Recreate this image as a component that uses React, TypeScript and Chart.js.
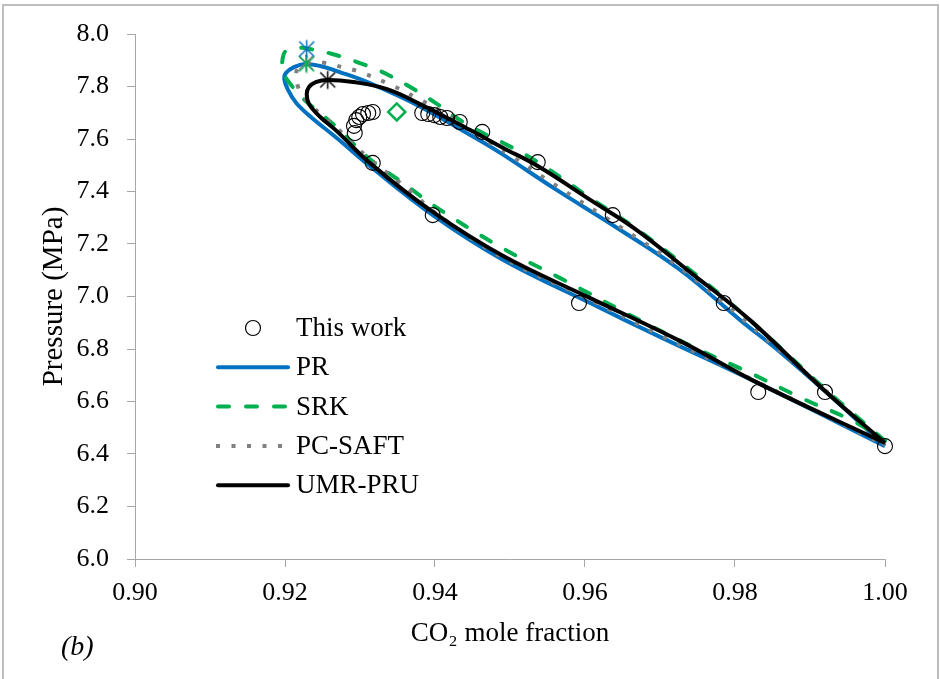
import React, { useEffect, useRef } from "react";
import { Chart, registerables } from "chart.js";
Chart.register(...registerables);

const FONT = "'Liberation Serif', 'Times New Roman', serif";

// ---- data (CO2 mole fraction, pressure MPa) ----
const expX = [0.9293, 0.9292, 0.9295, 0.9299, 0.9304, 0.9311, 0.9317, 0.9383, 0.9391, 0.9399, 0.9407, 0.9416, 0.9433, 0.9463, 0.9537, 0.9637, 0.9785, 0.992, 1.0, 0.9317, 0.9397, 0.9592, 0.9831];
const expY = [7.623, 7.65, 7.672, 7.684, 7.695, 7.699, 7.703, 7.699, 7.695, 7.691, 7.684, 7.68, 7.665, 7.627, 7.512, 7.31, 6.975, 6.636, 6.43, 7.509, 7.31, 6.975, 6.636];

const prX = [1.0, 0.9923, 0.986, 0.9807, 0.9727, 0.9643, 0.956, 0.9487, 0.9447, 0.9376, 0.9313, 0.9273, 0.9247, 0.9227, 0.9212, 0.9201, 0.9199, 0.9204, 0.9215, 0.9236, 0.9269, 0.9313, 0.9397, 0.9491, 0.9607, 0.97, 0.9833, 1.0];
const prY = [6.43, 6.632, 6.789, 6.91, 7.101, 7.261, 7.41, 7.547, 7.615, 7.73, 7.813, 7.855, 7.878, 7.886, 7.874, 7.851, 7.829, 7.787, 7.737, 7.68, 7.604, 7.497, 7.31, 7.139, 6.975, 6.846, 6.667, 6.43];

const srkX = [1.0, 0.992, 0.982, 0.974, 0.9669, 0.9607, 0.9537, 0.9491, 0.9456, 0.9429, 0.9403, 0.9367, 0.9327, 0.9296, 0.9263, 0.9233, 0.9213, 0.9201, 0.9197, 0.9197, 0.9204, 0.9215, 0.9229, 0.9253, 0.9273, 0.9313, 0.9363, 0.9397, 0.9487, 0.9567, 0.9683, 0.9753, 0.982, 0.9891, 0.9957, 1.0];
const srkY = [6.45, 6.648, 6.91, 7.101, 7.257, 7.375, 7.512, 7.585, 7.634, 7.68, 7.733, 7.798, 7.859, 7.893, 7.924, 7.943, 7.947, 7.935, 7.909, 7.859, 7.821, 7.783, 7.741, 7.684, 7.634, 7.524, 7.421, 7.349, 7.189, 7.07, 6.895, 6.796, 6.709, 6.61, 6.526, 6.45];

const pcX = [1.0, 0.9923, 0.9813, 0.9727, 0.9643, 0.956, 0.9504, 0.9447, 0.9407, 0.9376, 0.9336, 0.9296, 0.9276, 0.9253, 0.9237, 0.9223, 0.9216, 0.9215, 0.9217, 0.9224, 0.9236, 0.9249, 0.9269, 0.9313, 0.9371, 0.9397, 0.9491, 0.9607, 0.97, 0.9833, 1.0];
const pcY = [6.434, 6.636, 6.907, 7.109, 7.272, 7.425, 7.531, 7.63, 7.707, 7.756, 7.813, 7.859, 7.874, 7.89, 7.893, 7.882, 7.863, 7.836, 7.802, 7.764, 7.726, 7.691, 7.642, 7.524, 7.394, 7.326, 7.147, 6.987, 6.853, 6.67, 6.434];

const umrX = [1.0, 0.992, 0.982, 0.974, 0.9669, 0.9607, 0.9537, 0.9491, 0.9447, 0.938, 0.9336, 0.9291, 0.9257, 0.9241, 0.9232, 0.9229, 0.9232, 0.9247, 0.9269, 0.9313, 0.9397, 0.9491, 0.9607, 0.9727, 0.9831, 1.0];
const umrY = [6.442, 6.64, 6.91, 7.093, 7.253, 7.368, 7.497, 7.566, 7.634, 7.733, 7.79, 7.817, 7.825, 7.817, 7.798, 7.771, 7.733, 7.684, 7.63, 7.509, 7.322, 7.154, 6.994, 6.83, 6.67, 6.442];

// critical points: [x, y]
const critPR = [0.9229, 7.943];
const critSRK = [0.9229, 7.886];
const critPC = [0.9228, 7.89];
const critUMR = [0.9257, 7.825];
const srkExtra = [0.9349, 7.703];

const xTicks = { min: 0.9, max: 1.0, step: 0.02 };
const yTicks = { min: 6.0, max: 8.0, step: 0.2 };

const legendLabels = ["This work", "PR", "SRK", "PC-SAFT", "UMR-PRU"];

const C_PR = "#0070C0";
const C_SRK = "#00B050";
const C_PC = "#808080";
const C_UMR = "#000000";
const AXIS = "#a6a6a6";

function pts(xs: number[], ys: number[]) {
  return xs.map((x, i) => ({ x, y: ys[i] }));
}

function makeAsterisk(color: string, half: number, lw: number) {
  const size = Math.ceil(half * 2 + lw * 2 + 2);
  const c = document.createElement("canvas");
  c.width = size;
  c.height = size;
  const g = c.getContext("2d")!;
  const m = size / 2;
  const d = half * 0.83;
  g.strokeStyle = color;
  g.lineWidth = lw;
  g.beginPath();
  g.moveTo(m, m - half);
  g.lineTo(m, m + half);
  g.moveTo(m - d, m - d);
  g.lineTo(m + d, m + d);
  g.moveTo(m + d, m - d);
  g.lineTo(m - d, m + d);
  g.stroke();
  return c;
}

const decor = {
  id: "decor",
  afterDraw(chart: any) {
    const ctx = chart.ctx as CanvasRenderingContext2D;
    ctx.save();
    // outer frame
    ctx.strokeStyle = "#bdbdbd";
    ctx.lineWidth = 2;
    ctx.strokeRect(3, 5, 935, 720);

    // legend
    const lx0 = 218, lx1 = 288, tx = 296, y0 = 328, dy = 39.3;
    ctx.font = `27px ${FONT}`;
    ctx.fillStyle = "#000";
    ctx.textAlign = "left";
    ctx.textBaseline = "middle";
    legendLabels.forEach((lab, i) => {
      const y = y0 + i * dy;
      ctx.fillText(lab, tx, y + 1);
      ctx.setLineDash([]);
      if (i === 0) {
        ctx.beginPath();
        ctx.arc(253, y, 7.5, 0, Math.PI * 2);
        ctx.strokeStyle = "#000";
        ctx.lineWidth = 1.2;
        ctx.stroke();
        return;
      }
      ctx.beginPath();
      ctx.lineWidth = 4;
      if (i === 1) {
        ctx.strokeStyle = C_PR;
        ctx.lineCap = "round";
      } else if (i === 2) {
        ctx.strokeStyle = C_SRK;
        ctx.lineCap = "round";
        ctx.setLineDash([11, 17]);
      } else if (i === 3) {
        ctx.strokeStyle = C_PC;
        ctx.lineCap = "butt";
        ctx.setLineDash([4, 11.5]);
      } else {
        ctx.strokeStyle = C_UMR;
        ctx.lineCap = "round";
      }
      ctx.moveTo(lx0 + (i === 3 ? -2 : 0), y);
      ctx.lineTo(lx1, y);
      ctx.stroke();
    });
    ctx.setLineDash([]);

    // panel label
    ctx.font = `italic 28px ${FONT}`;
    ctx.textBaseline = "alphabetic";
    ctx.fillStyle = "#000";
    ctx.fillText("(b)", 61, 655);
    ctx.restore();
  },
};

export default function App() {
  const ref = useRef<HTMLCanvasElement | null>(null);

  useEffect(() => {
    document.body.style.margin = "0";
    const canvas = ref.current!;
    const starBlue = makeAsterisk(C_PR, 9, 1.5);
    const starGreen = makeAsterisk(C_SRK, 9, 1.5);
    const starGray = makeAsterisk(C_PC, 8.5, 1.5);
    const starBlack = makeAsterisk(C_UMR, 9, 1.5);

    const lineDs = (label: string, xs: number[], ys: number[], color: string, extra: any = {}) => ({
      label,
      data: pts(xs, ys),
      showLine: true,
      borderColor: color,
      backgroundColor: color,
      borderWidth: 4,
      pointRadius: 0,
      pointHoverRadius: 0,
      tension: 0.4,
      fill: false,
      clip: false,
      ...extra,
    });

    const starDs = (label: string, p: number[], img: HTMLCanvasElement) => ({
      label,
      data: [{ x: p[0], y: p[1] }],
      pointStyle: img,
      pointRadius: 9,
      showLine: false,
      clip: false,
    });

    const chart = new Chart(canvas, {
      type: "scatter",
      data: {
        datasets: [
          starDs("PR crit", critPR, starBlue),
          starDs("UMR crit", critUMR, starBlack),
          starDs("SRK crit", critSRK, starGreen),
          starDs("PC-SAFT crit", critPC, starGray),
          {
            label: "SRK point",
            data: [{ x: srkExtra[0], y: srkExtra[1] }],
            pointStyle: "rectRot",
            pointRadius: 8.5,
            borderColor: C_SRK,
            backgroundColor: "rgba(0,0,0,0)",
            borderWidth: 2.5,
            showLine: false,
            clip: false,
          },
          {
            label: legendLabels[0],
            data: pts(expX, expY),
            pointStyle: "circle",
            pointRadius: 7.5,
            borderColor: "#000",
            backgroundColor: "rgba(0,0,0,0)",
            borderWidth: 1.1,
            showLine: false,
            clip: false,
          },
          lineDs(legendLabels[4], umrX, umrY, C_UMR),
          lineDs(legendLabels[3], pcX, pcY, C_PC, { borderDash: [4, 11.5], borderCapStyle: "butt" }),
          lineDs(legendLabels[2], srkX, srkY, C_SRK, { borderDash: [11, 17], borderCapStyle: "round" }),
          lineDs(legendLabels[1], prX, prY, C_PR),
        ] as any,
      },
      options: {
        animation: false,
        responsive: false,
        devicePixelRatio: 1,
        events: [],
        layout: { padding: { top: 34, right: 55, left: 0, bottom: 0 } },
        plugins: { legend: { display: false }, tooltip: { enabled: false } },
        scales: {
          x: {
            type: "linear",
            min: xTicks.min,
            max: xTicks.max,
            ticks: {
              stepSize: xTicks.step,
              callback: (v: any) => Number(v).toFixed(2),
              color: "#000",
              font: { family: FONT, size: 26 },
              padding: 11,
              maxRotation: 0,
              autoSkip: false,
            },
            grid: { drawOnChartArea: false, drawTicks: true, tickLength: 8, color: AXIS },
            border: { display: true, color: AXIS, width: 1 },
            title: {
              display: true,
              text: "CO\u2082 mole fraction",
              color: "#000",
              font: { family: FONT, size: 27 },
              padding: { top: 0, bottom: 29 },
            },
            afterFit: (s: any) => {
              s.height = 120;
            },
          },
          y: {
            type: "linear",
            min: yTicks.min,
            max: yTicks.max,
            ticks: {
              stepSize: yTicks.step,
              callback: (v: any) => Number(v).toFixed(1),
              color: "#000",
              font: { family: FONT, size: 26 },
              padding: 18,
              autoSkip: false,
            },
            grid: { drawOnChartArea: false, drawTicks: true, tickLength: 8, color: AXIS },
            border: { display: true, color: AXIS, width: 1 },
            title: {
              display: true,
              text: "Pressure (MPa)",
              color: "#000",
              font: { family: FONT, size: 29 },
              padding: { top: 37, bottom: 0 },
            },
            afterFit: (s: any) => {
              s.width = 135;
            },
          },
        },
      } as any,
      plugins: [decor],
    });
    return () => chart.destroy();
  }, []);

  return (
    <div style={{ width: 940, height: 679, background: "#fff" }}>
      <canvas ref={ref} width={940} height={679} style={{ display: "block" }} />
    </div>
  );
}
